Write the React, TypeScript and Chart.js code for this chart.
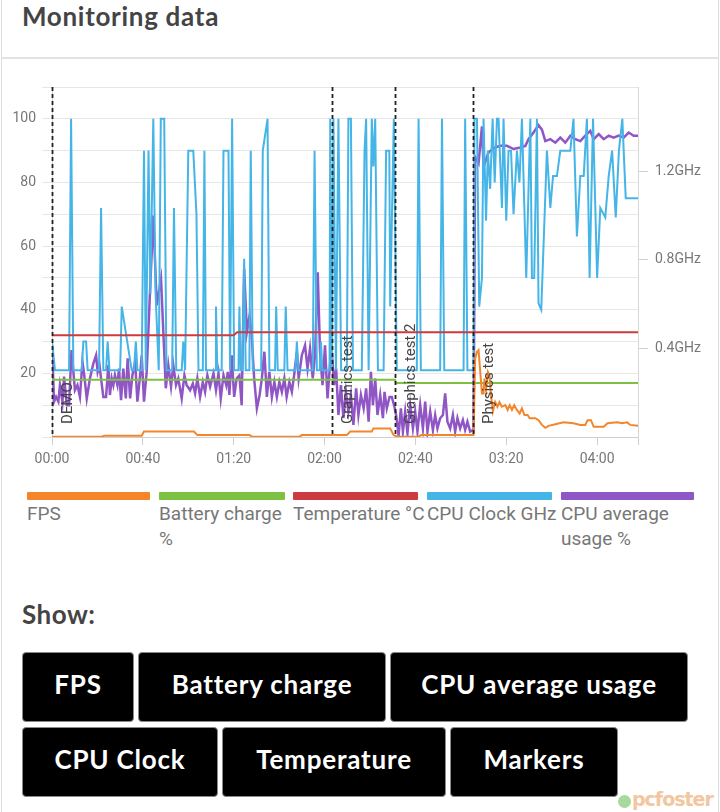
import React, { useEffect, useRef } from 'react';
import { Chart, registerables } from 'chart.js';

Chart.register(...registerables);

// ---------- data ----------
const X_MAX = 258; // seconds
const xTickValues = [0, 40, 80, 120, 160, 200, 240, 258];
const leftMax = 110;
const ghzMax = 1.58;
const ghzTicks = [0.4, 0.8, 1.2];

const seriesNames = ['FPS', 'Battery charge %', 'Temperature °C', 'CPU Clock GHz', 'CPU average usage %'];
const legendLines = [['FPS'], ['Battery charge', '%'], ['Temperature °C'], ['CPU Clock GHz'], ['CPU average', 'usage %']];
const seriesColors = ['#f5852a', '#7cc142', '#cd3a3f', '#45b5e7', '#9156c6'];

const markerTimes = [0, 123.2, 151.1, 185.5];
const markerLabels = ['DEMO', 'Graphics test', 'Graphics test 2', 'Physics test'];

const buttonsRow1 = ['FPS', 'Battery charge', 'CPU average usage'];
const buttonsRow2 = ['CPU Clock', 'Temperature', 'Markers'];

const fps: [number, number][] = [
  [0, 0.1], [22, 0.1], [23, 0.4], [39.5, 0.4], [40.5, 1.7], [62.5, 1.7], [64, 0.6], [87, 0.6], [88, 0.1],
  [109, 0.1], [110, 0.6], [129.8, 0.6], [131.3, 1.7], [140.8, 1.7], [141.5, 2.7], [148.9, 2.7], [150.4, 0.6],
  [152, 0.1], [161.4, 0.1], [162.5, 0.6], [185.6, 0.6], [186.3, 24.6], [187.1, 26.7], [187.8, 27.3], [188.6, 20],
  [189.3, 13.7], [190, 13.7], [190.4, 18.4], [191.1, 14.7], [191.9, 20.5], [192.6, 19.5], [193.2, 13.7], [194.1, 8],
  [195.1, 11], [196.1, 9.5], [197, 11], [198.1, 9.5], [199.6, 10], [200.6, 8.5], [201.5, 10], [202.5, 8.5],
  [203.5, 10], [204.7, 8.5], [205.9, 7.4], [206.9, 9], [208, 6.9], [209.4, 6.9], [210.3, 5.9], [212.8, 5.9],
  [214.2, 5.3], [215.7, 3.8], [217.2, 2.9], [218.6, 3.5], [221.6, 4], [225.2, 4.6], [229.6, 4.3], [232.6, 3.8],
  [234.8, 3.8], [235.8, 5.3], [237.3, 5.3], [238.5, 3.2], [242.9, 3.2], [244.6, 4.3], [248.8, 4.6], [251, 4.3],
  [253.2, 4.6], [254.6, 3.8], [258, 3.5],
];

const battery: [number, number][] = [[0, 18], [151, 18], [151.5, 17], [258, 17]];

const temperature: [number, number][] = [[0, 32], [80, 32], [81.5, 32.9], [258, 32.9]];

const cpuClock: [number, number][] = [
  [0, 30], [1.3, 21], [7.5, 21], [8.4, 100], [9.4, 21], [13.1, 21], [13.8, 30], [15, 30], [15.7, 21], [20.7, 21],
  [21.6, 72], [22.6, 21], [23.8, 21], [24.5, 30], [25.3, 21], [30, 21], [30.7, 41], [35.1, 21], [36.1, 21],
  [36.9, 30], [37.6, 21], [39.5, 21], [40.5, 90], [41.3, 21], [42.5, 90], [43.3, 45], [44.6, 100], [45.6, 45],
  [47, 21], [47.9, 100], [49.4, 100], [50.4, 21], [52.9, 21], [53.7, 72], [54.7, 21], [57.1, 21], [57.8, 30],
  [58.6, 21], [60, 90], [62.2, 90], [63.6, 70], [64.5, 21], [66.4, 21], [67.1, 90], [67.8, 21], [71.8, 21],
  [72.2, 41], [72.8, 21], [74.7, 21], [75.5, 90], [77.7, 90], [78.4, 21], [79.3, 100], [80.2, 21], [82.1, 21],
  [82.5, 41], [83.1, 21], [83.8, 21], [84.6, 56], [85.3, 21], [86.9, 21], [87.5, 90], [88.4, 21], [92.1, 21],
  [92.8, 90], [94.9, 100], [95.7, 21], [98.2, 21], [98.7, 41], [99.4, 21], [102.3, 21], [102.9, 41], [103.7, 21],
  [107.2, 21], [107.8, 30], [108.5, 21], [114.8, 21], [115.6, 90], [116.6, 21], [117.9, 21], [118.4, 30], [119, 21],
  [122.2, 21], [122.5, 100], [123.2, 21], [123.9, 100], [125, 21], [126.1, 100], [127.3, 21], [129.8, 21],
  [130.5, 100], [131.6, 100], [132.5, 21], [136.4, 21], [137.6, 90], [138.3, 100], [139.4, 21], [140.8, 100],
  [141.5, 85], [142.3, 100], [143.5, 21], [146, 21], [147.1, 90], [148.5, 90], [148.9, 41], [150.5, 100],
  [151.8, 21], [160.6, 21], [161.4, 100], [162.4, 21], [170.9, 21], [171.7, 100], [172.7, 21], [181.2, 21],
  [181.9, 100], [182.9, 21], [185.6, 21], [186, 100], [187.1, 100], [188.1, 41], [189.3, 50], [190, 100],
  [191.1, 68], [191.9, 90], [192.9, 78], [194, 100], [194.9, 80], [195.9, 100], [196.6, 100], [198.1, 72],
  [198.8, 100], [200, 68], [201, 90], [202.1, 90], [203.2, 70], [204.7, 90], [205.8, 80], [206.9, 100],
  [208.8, 50], [210.6, 100], [211.3, 50], [212.3, 50], [213.5, 100], [214.2, 42], [215.4, 40], [217.9, 90],
  [219.4, 72], [220.6, 82], [222.3, 82], [223.8, 90], [228.2, 90], [229.6, 100], [231.1, 63], [232.6, 82],
  [234.1, 82], [235.5, 100], [236.7, 50], [238.2, 100], [240, 50], [241.4, 72], [243.6, 69], [245.1, 82],
  [246.6, 90], [248.2, 69], [249.6, 90], [251.1, 100], [252.6, 75], [258, 75],
];

const cpuUsage: [number, number][] = [
  [0, 28.8], [0.9, 11.1], [1.8, 12.6], [2.8, 11.1], [3.5, 16.3], [4.6, 11.1], [5.3, 19], [6.5, 10], [7.5, 10],
  [8.6, 27.3], [10.1, 14.7], [11.2, 16.3], [12.3, 12.6], [13.4, 23.6], [14.2, 19.4], [15.3, 12.1], [16.7, 18.4],
  [18.2, 23.1], [19.4, 25.7], [20.1, 20.5], [20.9, 22.6], [21.6, 18.4], [22.6, 12.6], [23.8, 12.6], [24.8, 22.6],
  [25.5, 13.2], [26.3, 18.4], [27, 16.3], [27.7, 19.4], [28.8, 16.3], [29.5, 21.5], [30.4, 11.6], [31.4, 21.5],
  [32.5, 12.1], [33.3, 24.7], [34.4, 12.1], [35.4, 19.4], [36.6, 23.6], [37.6, 11.1], [38.8, 19.4], [39.5, 25.7],
  [40.5, 11.1], [41.7, 20.5], [42.9, 41.4], [44.6, 69.6], [46.1, 41.4], [48, 49.7], [50.1, 15.3], [51.2, 22.6],
  [52.4, 15.8], [53.4, 22.6], [54.6, 16.3], [55.6, 18.4], [57.1, 12.1], [58.3, 19.4], [59.3, 16.3], [60.8, 14.7],
  [62, 16.8], [63, 13.7], [64, 18.4], [65.2, 12.6], [66.4, 17.3], [67.4, 14.2], [68.4, 19.4], [69.6, 15.8],
  [71.1, 20], [72.2, 14.7], [73.3, 20], [74.3, 12.1], [75.5, 19.4], [76.7, 16.3], [77.4, 20.5], [78.1, 13.2],
  [79.1, 25.7], [80.2, 12.6], [81.3, 18.4], [82.5, 19.4], [83.5, 10], [84.6, 52.9], [85.8, 33], [87, 38.2],
  [88, 30.8], [89, 18.4], [90.2, 9], [91.4, 13.2], [92.4, 18.4], [93.5, 26.8], [94.6, 12.6], [95.7, 20.5],
  [96.8, 12.6], [97.9, 17.3], [99, 12.6], [100.1, 17.3], [101.2, 14.2], [102.3, 18.4], [103.3, 12.6], [104.5, 17.3],
  [105.6, 14.2], [106.6, 19.4], [107.8, 26.8], [108.6, 18.4], [110, 25.7], [111.4, 28.8], [112.5, 21.5],
  [113.6, 27.8], [114.8, 18.4], [115.8, 25.7], [117, 51.8], [118, 26.8], [119.1, 16.3], [120.2, 28.8],
  [121.3, 12.1], [122.5, 23.6], [123.2, 26.8], [124.2, 16.3], [125.1, 21.5], [126.1, 6.9], [127.2, 16.3],
  [128.3, 5.9], [129.4, 14.2], [130.5, 8], [131.6, 13.2], [132.7, 3.8], [133.9, 15.3], [134.9, 6.9], [136, 13.2],
  [137.2, 9], [138.3, 15.3], [139.4, 4.8], [140.4, 20.5], [141.3, 10], [142.3, 18.4], [143.3, 6.9], [144.5, 13.2],
  [145.7, 5.9], [146.4, 14.2], [147.4, 9], [148.6, 12.6], [149.6, 12.6], [150.6, 10], [151.5, 6.9], [152.6, 0.6],
  [153.6, 9], [154.5, 1.7], [155.5, 8], [156.5, 1.2], [157.7, 10], [158.9, 2.7], [159.9, 8], [160.9, 1.7],
  [162.1, 10], [163.3, 2.7], [164.3, 11.1], [165.3, 1.7], [166.5, 8], [167.7, 2.2], [168.7, 6.9], [169.7, 2.7],
  [170.9, 5.9], [172.1, 6.9], [173.1, 13.7], [174.1, 4.8], [175.3, 2.7], [176.5, 6.9], [177.5, 1.7], [178.5, 5.9],
  [179.7, 2.7], [180.9, 5.3], [181.9, 2.2], [182.9, 4.8], [184.1, 1.7], [185.3, 2.2], [185.6, 2], [186.3, 88],
  [187.8, 86], [189.3, 97.6], [190, 85], [192.2, 89.5], [195.1, 91], [197.4, 91.5], [200.3, 91.5], [203.2, 90.5],
  [206.2, 91], [208.4, 91.5], [209.8, 93.6], [212, 95.7], [214.2, 98], [215.7, 96.6], [217.2, 93], [219.4, 93.6],
  [221.6, 92.5], [223.8, 94.1], [226, 92.5], [228.2, 94.7], [230.4, 93.6], [232.6, 93], [234.8, 94.7],
  [237, 96.2], [238.5, 93.6], [240.7, 95.2], [242.9, 93.6], [245.1, 94.7], [247.3, 94.1], [249.5, 94.7],
  [251.7, 94.1], [253.9, 95.7], [256.1, 94.7], [258, 94.7],
];

const seriesData = [fps, battery, temperature, cpuClock, cpuUsage];

// ---------- helpers ----------
const fmtTime = (v: number) => {
  const m = Math.floor(v / 60);
  const s = Math.round(v % 60);
  return String(m).padStart(2, '0') + ':' + String(s).padStart(2, '0');
};

const markerPlugin = {
  id: 'markerLines',
  afterDatasetsDraw(chart: any) {
    const { ctx, chartArea, scales } = chart;
    ctx.save();
    markerTimes.forEach((t, i) => {
      const x = Math.round(scales.x.getPixelForValue(t)) + 0.5;
      ctx.setLineDash([4, 3]);
      ctx.lineWidth = 1.8;
      ctx.strokeStyle = '#222';
      ctx.beginPath();
      ctx.moveTo(x, chartArea.top);
      ctx.lineTo(x, chartArea.bottom);
      ctx.stroke();
      ctx.setLineDash([]);
      ctx.save();
      ctx.translate(x + 19, chartArea.bottom - 13);
      ctx.rotate(-Math.PI / 2);
      ctx.font = '15px Roboto';
      ctx.fillStyle = '#444';
      ctx.textAlign = 'left';
      ctx.textBaseline = 'alphabetic';
      ctx.fillText(markerLabels[i], 0, 0);
      ctx.restore();
    });
    ctx.restore();
  },
};

const tickFont = { family: 'Roboto', size: 14 };
const tickColor = '#777';
const gridColor = '#e6e6e6';

const legendCols = [132, 134, 134, 134, 140];
const legendBars = [123, 126, 125, 125, 133];
const row1Widths = [112, 248, 298];
const row2Widths = [196, 224, 168];

export default function App() {
  const ref = useRef<HTMLCanvasElement>(null);

  useEffect(() => {
    if (!ref.current) return;
    const chart = new Chart(ref.current, {
      type: 'line',
      data: {
        datasets: seriesNames.map((name, i) => ({
          label: name,
          data: seriesData[i].map(([x, y]) => ({ x, y })),
          borderColor: seriesColors[i],
          backgroundColor: seriesColors[i],
          borderWidth: i === 4 ? 2.5 : 2,
          pointRadius: 0,
          tension: 0,
          fill: false,
          yAxisID: 'y',
        })),
      },
      options: {
        animation: false,
        responsive: false,
        devicePixelRatio: 1,
        layout: { padding: { top: 27, left: 0, right: 0, bottom: 0 } },
        plugins: { legend: { display: false }, tooltip: { enabled: false } },
        scales: {
          x: {
            type: 'linear',
            min: 0,
            max: X_MAX,
            afterBuildTicks: (axis: any) => {
              axis.ticks = xTickValues.map((v) => ({ value: v }));
            },
            afterFit: (scale: any) => {
              scale.height = 43;
            },
            grid: { drawOnChartArea: false, tickLength: 8, color: '#cfcfcf' },
            border: { display: true, color: '#cfcfcf' },
            ticks: {
              autoSkip: false,
              maxRotation: 0,
              padding: 6,
              font: tickFont,
              color: tickColor,
              callback: (v: any) => (Number(v) % 40 === 0 ? fmtTime(Number(v)) : ''),
            },
          },
          y: {
            type: 'linear',
            position: 'left',
            min: 0,
            max: leftMax,
            afterFit: (scale: any) => {
              scale.width = 52;
            },
            grid: { color: gridColor, tickLength: 10 },
            border: { display: true, color: '#d8d8d8' },
            ticks: {
              stepSize: 10,
              autoSkip: false,
              padding: 6,
              font: tickFont,
              color: tickColor,
              callback: (v: any) => (Number(v) > 0 && Number(v) % 20 === 0 ? String(v) : ''),
            },
          },
          y1: {
            type: 'linear',
            position: 'right',
            min: 0,
            max: ghzMax,
            afterBuildTicks: (axis: any) => {
              axis.ticks = ghzTicks.map((v) => ({ value: v }));
            },
            afterFit: (scale: any) => {
              scale.width = 82;
            },
            grid: { drawOnChartArea: false, tickLength: 10, color: '#cfcfcf' },
            border: { display: true, color: '#d8d8d8' },
            ticks: {
              autoSkip: false,
              padding: 7,
              font: tickFont,
              color: tickColor,
              callback: (v: any) => Number(v).toFixed(1) + 'GHz',
            },
          },
        },
      },
      plugins: [markerPlugin],
    } as any);
    return () => chart.destroy();
  }, []);

  const btn = (label: string, width: number) => (
    <div
      key={label}
      style={{
        width,
        height: 70,
        boxSizing: 'border-box',
        background: '#000',
        color: '#fff',
        border: '1px solid #8a8a8a',
        borderRadius: 4,
        display: 'flex',
        alignItems: 'center',
        justifyContent: 'center',
        fontFamily: 'Lato',
        fontWeight: 700,
        fontSize: 26,
        letterSpacing: 0.8,
        whiteSpace: 'nowrap',
        paddingBottom: 6,
      }}
    >
      {label}
    </div>
  );

  return (
    <div style={{ position: 'absolute', left: 0, top: 0, width: 720, height: 812, overflow: 'hidden', background: '#fff' }}>
      <div style={{ position: 'absolute', left: 1, top: 0, width: 1, height: 812, background: '#dcdcdc' }} />
      <div style={{ position: 'absolute', left: 718, top: 0, width: 1, height: 812, background: '#dcdcdc' }} />
      <div style={{ position: 'absolute', left: 1, top: 57, width: 718, height: 2, background: '#e2e2e2' }} />
      <div
        style={{
          position: 'absolute',
          left: 22,
          top: 0,
          fontFamily: 'Lato',
          fontWeight: 700,
          fontSize: 26,
          letterSpacing: 0.7,
          color: '#444',
          whiteSpace: 'nowrap',
        }}
      >
        Monitoring data
      </div>
      <canvas
        ref={ref}
        width={720}
        height={420}
        style={{ position: 'absolute', left: 0, top: 60, width: 720, height: 420 }}
      />
      <div style={{ position: 'absolute', left: 27, top: 492, display: 'flex' }}>
        {seriesNames.map((name, i) => (
          <div key={name} style={{ width: legendCols[i] }}>
            <div style={{ width: legendBars[i], height: 8, background: seriesColors[i], borderRadius: 1 }} />
            <div
              style={{
                marginTop: 1,
                fontFamily: 'Roboto',
                fontSize: 19,
                lineHeight: '25px',
                color: '#777',
                whiteSpace: 'nowrap',
              }}
            >
              {legendLines[i].map((ln) => (
                <div key={ln}>{ln}</div>
              ))}
            </div>
          </div>
        ))}
      </div>
      <div
        style={{
          position: 'absolute',
          left: 22,
          top: 598,
          fontFamily: 'Lato',
          fontWeight: 700,
          fontSize: 26,
          letterSpacing: 0.5,
          color: '#444',
        }}
      >
        Show:
      </div>
      <div style={{ position: 'absolute', left: 22, top: 652, display: 'flex', gap: 4 }}>
        {buttonsRow1.map((b, i) => btn(b, row1Widths[i]))}
      </div>
      <div style={{ position: 'absolute', left: 22, top: 727, display: 'flex', gap: 4 }}>
        {buttonsRow2.map((b, i) => btn(b, row2Widths[i]))}
      </div>
      <div
        style={{
          position: 'absolute',
          left: 618,
          top: 795,
          width: 13,
          height: 13,
          borderRadius: 7,
          background: '#a8d99c',
        }}
      />
      <div
        style={{
          position: 'absolute',
          left: 632,
          top: 788,
          fontFamily: 'DejaVu Sans',
          fontWeight: 700,
          fontSize: 19,
          color: '#f2c6a0',
          letterSpacing: -1,
          whiteSpace: 'nowrap',
        }}
      >
        pcfoster
      </div>
    </div>
  );
}
